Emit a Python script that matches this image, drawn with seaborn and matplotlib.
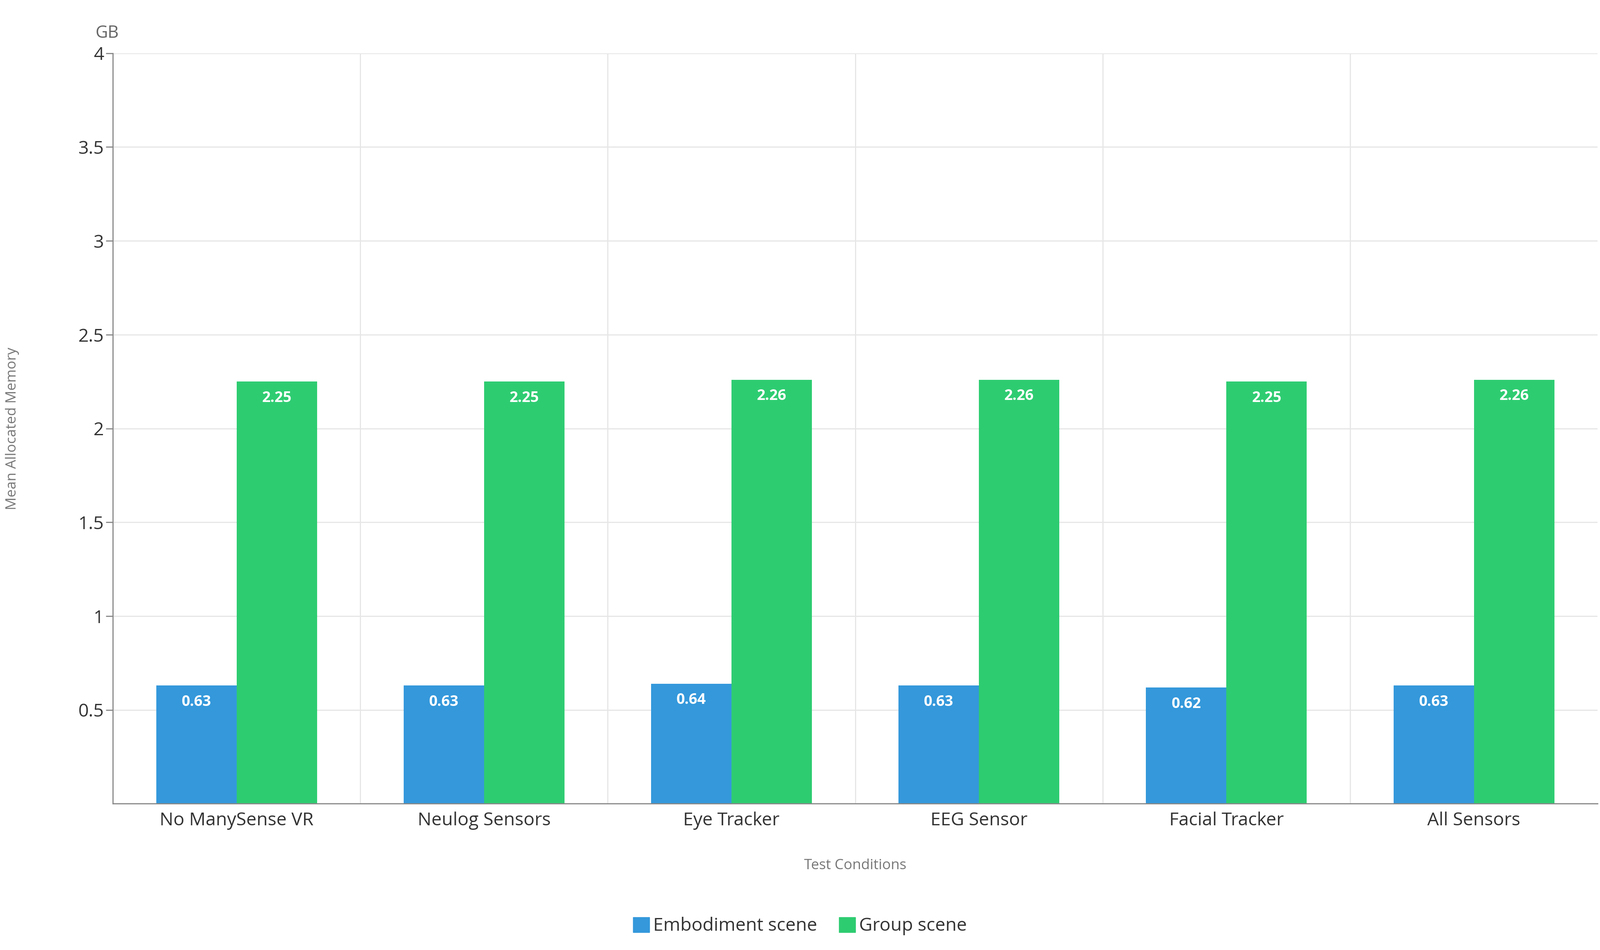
import matplotlib
matplotlib.use("Agg")
import matplotlib.pyplot as plt
import seaborn as sns
import pandas as pd

conditions = ["No ManySense VR", "Neulog Sensors", "Eye Tracker", "EEG Sensor", "Facial Tracker", "All Sensors"]
embodiment = [0.63, 0.63, 0.64, 0.63, 0.62, 0.63]
group = [2.25, 2.25, 2.26, 2.26, 2.25, 2.26]
scenes = ["Embodiment scene", "Group scene"]
colors = ["#3498db", "#2ecc71"]

df = pd.DataFrame({
    "cond": conditions * 2,
    "scene": [scenes[0]] * 6 + [scenes[1]] * 6,
    "value": embodiment + group,
})

plt.rcParams["font.family"] = "Open Sans"
fig = plt.figure(figsize=(39, 23.16), dpi=100)
ax = fig.add_axes([0.0705, 0.154, 0.928, 0.79])
ax.set_axisbelow(True)
sns.barplot(data=df, x="cond", y="value", hue="scene", palette=colors,
            width=0.65, ax=ax, legend=False, saturation=1, linewidth=0)

for cont in ax.containers:
    for bar in cont:
        h = bar.get_height()
        ax.text(bar.get_x() + bar.get_width() / 2, h - 0.05, f"{h:.2f}",
                ha="center", va="top", color="white", fontweight="bold", fontsize=26)

ax.set_ylim(0, 4)
ax.set_xlim(-0.5, 5.5)
ax.set_yticks([0.5, 1, 1.5, 2, 2.5, 3, 3.5, 4])
ax.set_yticklabels(["0.5", "1", "1.5", "2", "2.5", "3", "3.5", "4"])
ax.tick_params(axis="y", labelsize=32, colors="#333333", length=12, width=2, color="#888888")
ax.tick_params(axis="x", labelsize=32, colors="#333333", length=0, pad=14)
ax.yaxis.grid(True, color="#e6e6e6", linewidth=2)
for x in [0.5, 1.5, 2.5, 3.5, 4.5]:
    ax.axvline(x, color="#e6e6e6", linewidth=2, zorder=0)
for s in ["top", "right"]:
    ax.spines[s].set_visible(False)
for s in ["left", "bottom"]:
    ax.spines[s].set_color("#888888")
    ax.spines[s].set_linewidth(2)

ax.set_xlabel("Test Conditions", fontsize=25, color="#777777", labelpad=50)
ax.set_ylabel("Mean Allocated Memory", fontsize=25, color="#777777", labelpad=25)
ax.yaxis.set_label_coords(-0.063, 0.5)
fig.text(0.067, 0.965, "GB", fontsize=30, color="#666666", ha="center", va="center")

handles = [plt.Rectangle((0, 0), 1, 1, color=c) for c in colors]
fig.legend(handles, scenes, loc="center", bbox_to_anchor=(0.5, 0.025), ncol=2,
           frameon=False, fontsize=32, handlelength=0.9, handleheight=0.9,
           handletextpad=0.2, columnspacing=1.2, labelcolor="#333333")

fig.savefig("out.png", dpi=100)
